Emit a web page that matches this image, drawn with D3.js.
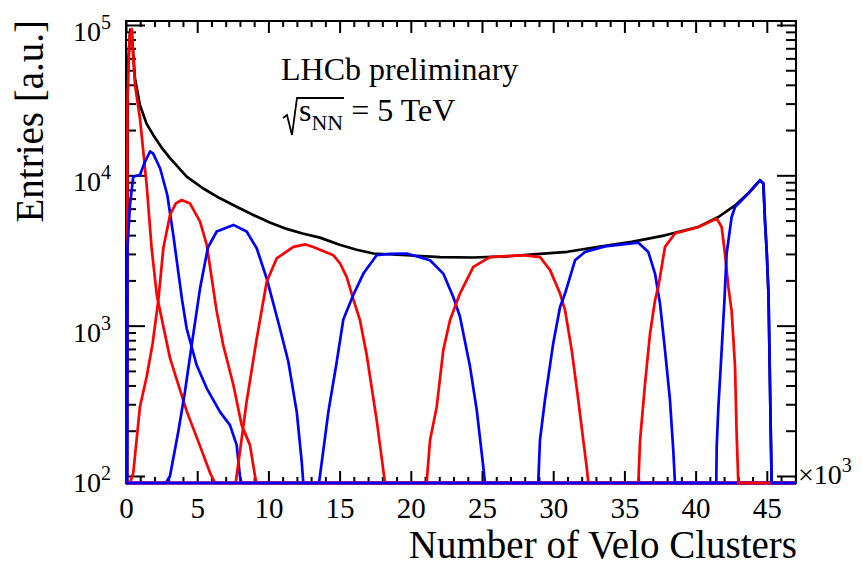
<!DOCTYPE html>
<html>
<head>
<meta charset="utf-8">
<script src="https://d3js.org/d3.v7.min.js"></script>
<style>
    body { margin: 0; background: #fff; }
    svg { display: block; }
    text { font-family: "Liberation Serif", "Times New Roman", serif; fill: #000; }
    .curve { fill: none; stroke-width: 2.7; stroke-linejoin: round; }
    .tick line { stroke: #000; stroke-width: 2; }
</style>
</head>
<body>
<svg width="863" height="566"></svg>
<script>
    // x in units of 10^3 Velo clusters, y = entries (0 = empty bin)
    const total = [[0.08, 0], [0.12, 50000], [0.3, 93000], [0.4, 90000], [0.63, 44000], [0.98, 29300],
        [1.45, 22000], [1.92, 18500], [2.5, 15300], [3.09, 13000], [4.26, 9800], [5.4, 8200], [6.6, 7030],
        [7.8, 6150], [8.94, 5450], [10.1, 4850], [11.28, 4400], [12.4, 4100], [13.62, 3850], [15.0, 3450],
        [16.2, 3200], [17.37, 3020], [19.7, 2940], [22.05, 2860], [24.39, 2840], [26.7, 2890], [29.07, 3000],
        [31.0, 3100], [33.17, 3340], [35.51, 3610], [37.85, 3990], [40.19, 4530], [41.6, 5280], [42.77, 6310],
        [43.7, 7600], [44.52, 9270], [44.76, 8810], [44.87, 5020], [45.0, 3020], [45.12, 1600], [45.2, 550],
        [45.28, 190], [45.34, 0]];

    const class1 = [[0.06, 0], [0.1, 30000], [0.25, 85000], [0.4, 94000], [0.63, 40000], [0.98, 23900],
        [1.45, 8630], [1.8, 3270], [2.16, 1600], [3.09, 608], [4.26, 270], [5.2, 158], [5.9, 105], [6.25, 0]];
    const class2 = [[0.08, 0], [0.1, 3300], [0.28, 6350], [0.51, 9800], [0.98, 10050], [1.33, 12300],
        [1.69, 14400], [1.9, 14000], [2.4, 11100], [2.9, 7400], [3.32, 4010], [3.93, 1500], [4.26, 957],
        [4.96, 547], [5.67, 383], [6.6, 267], [7.3, 218], [7.77, 161], [8.0, 100], [8.1, 0]];
    const class3 = [[0.28, 0], [0.51, 105], [0.98, 289], [1.45, 457], [1.87, 762], [2.27, 1475], [2.62, 3270],
        [3.09, 5450], [3.5, 6500], [3.91, 6850], [4.49, 6500], [5.2, 4920], [5.67, 3440], [6.37, 1240],
        [6.83, 741], [7.54, 403], [8.12, 218], [8.7, 161], [9.06, 100], [9.15, 0]];
    const class4 = [[2.8, 0], [3.09, 100], [3.67, 197], [4.14, 363], [4.61, 741], [5.2, 1770], [5.75, 3300],
        [6.37, 4230], [7.54, 4680], [8.47, 4230], [9.18, 3270], [9.88, 2060], [10.81, 957], [11.4, 575],
        [11.99, 267], [12.34, 124], [12.45, 0]];
    const class5 = [[7.7, 0], [7.77, 100], [8.47, 312], [9.18, 822], [9.88, 1960], [10.58, 2800], [11.75, 3340],
        [12.6, 3470], [13.15, 3340], [14.56, 2940], [15.03, 2600], [15.5, 2100], [15.96, 1500], [16.43, 1087],
        [16.9, 640], [17.6, 236], [18.07, 109], [18.19, 0]];
    const class6 = [[13.55, 0], [13.62, 100], [14.21, 267], [14.8, 575], [15.26, 1100], [15.96, 1600],
        [16.67, 2220], [17.6, 2940], [18.5, 3000], [19.71, 3020], [21.35, 2720], [22.28, 2220], [22.98, 1550],
        [23.45, 1150], [24.16, 532], [24.63, 275], [25.09, 115], [25.21, 0]];
    const class7 = [[21.05, 0], [21.11, 90], [21.35, 173], [21.82, 289], [22.28, 687], [22.75, 1087],
        [23.45, 1635], [24.39, 2460], [25.56, 2860], [27.9, 2940], [29.07, 2860], [29.78, 2340], [30.48, 1635],
        [30.83, 1268], [31.3, 687], [31.76, 320], [32.11, 173], [32.35, 115], [32.47, 0]];
    const class8 = [[28.9, 0], [28.95, 90], [29.07, 173], [29.42, 320], [30.0, 762], [30.48, 1330],
        [30.83, 1635], [31.53, 2720], [32.23, 3090], [33.64, 3370], [35.51, 3520], [35.98, 3560], [36.68, 3090],
        [37.15, 2220], [37.5, 1400], [37.85, 687], [38.2, 320], [38.43, 149], [38.55, 0]];
    const class9 = [[35.9, 0], [35.98, 90], [36.1, 173], [36.45, 413], [36.8, 887], [37.15, 1475],
        [37.38, 1810], [37.85, 3340], [38.55, 4100], [40.19, 4530], [41.48, 5150], [41.83, 4530], [42.06, 3020],
        [42.3, 1810], [42.53, 1250], [42.77, 532], [42.88, 192], [43.0, 0]];
    const class10 = [[41.45, 0], [41.48, 156], [41.6, 289], [41.83, 687], [42.02, 1450], [42.18, 3020],
        [42.53, 5280], [42.77, 6150], [43.7, 7550], [44.52, 9270], [44.76, 8810], [44.87, 5020], [45.0, 3020],
        [45.12, 1600], [45.2, 550], [45.28, 190], [45.34, 0]];

    const classes = [class1, class2, class3, class4, class5, class6, class7, class8, class9, class10];
    const classColors = ["#ff0000", "#0000ff"];
    const xTickValues = [0, 5, 10, 15, 20, 25, 30, 35, 40, 45];
    const yDecades = [100, 1000, 10000, 100000];
    const yExponents = ["2", "3", "4", "5"];

    const svg = d3.select("svg");
    const margin = { top: 21, right: 67, bottom: 83, left: 126 };
    const width = +svg.attr("width") - margin.left - margin.right;
    const height = +svg.attr("height") - margin.top - margin.bottom;
    const g = svg.append("g").attr("transform", `translate(${margin.left},${margin.top})`);

    const yMin = 89.8;
    const x = d3.scaleLinear().domain([0, 47.05]).range([0, width]);
    const y = d3.scaleLog().domain([yMin, 106300]).range([height, 0]);
    const xEnd = x.domain()[1];

    // empty bins sit on the bottom edge, as ROOT draws them on a log axis
    const line = d3.line()
        .x(d => x(d[0]))
        .y(d => y(Math.max(d[1], yMin)));
    const withEmpty = s => [[0, 0]].concat(s, [[xEnd, 0]]);

    g.append("rect")
        .attr("width", width).attr("height", height)
        .attr("fill", "none").attr("stroke", "#000").attr("stroke-width", 2);

    // ticks on all four sides, pointing inwards
    const xMinor = d3.range(0, 48).filter(v => v % 5 !== 0);
    const yMinor = [];
    yDecades.forEach(d => { for (let k = 2; k <= 9; k++) if (d * k < 106300) yMinor.push(d * k); });
    const noDomain = sel => sel.select(".domain").remove();

    g.append("g").attr("transform", `translate(0,${height})`)
        .call(d3.axisBottom(x).tickValues(xTickValues).tickSize(-12).tickPadding(14).tickFormat(d3.format("d")))
        .call(noDomain)
        .call(a => a.selectAll("text").style("font-size", "29px"));
    g.append("g").attr("transform", `translate(0,${height})`)
        .call(d3.axisBottom(x).tickValues(xMinor).tickSize(-6).tickFormat("")).call(noDomain);
    g.append("g")
        .call(d3.axisTop(x).tickValues(xTickValues).tickSize(-12).tickFormat("")).call(noDomain);
    g.append("g")
        .call(d3.axisTop(x).tickValues(xMinor).tickSize(-6).tickFormat("")).call(noDomain);

    g.append("g")
        .call(d3.axisLeft(y).tickValues(yDecades).tickSize(-19).tickFormat("")).call(noDomain);
    g.append("g")
        .call(d3.axisLeft(y).tickValues(yMinor).tickSize(-10).tickFormat("")).call(noDomain);
    g.append("g").attr("transform", `translate(${width},0)`)
        .call(d3.axisRight(y).tickValues(yDecades).tickSize(-19).tickFormat("")).call(noDomain);
    g.append("g").attr("transform", `translate(${width},0)`)
        .call(d3.axisRight(y).tickValues(yMinor).tickSize(-10).tickFormat("")).call(noDomain);

    // 10^n labels
    yDecades.forEach((d, i) => {
        const t = g.append("text")
            .attr("x", -15).attr("y", y(d) + 16)
            .attr("text-anchor", "end").attr("font-size", 28);
        t.append("tspan").text("10");
        t.append("tspan").attr("font-size", 20).attr("dy", -12).text(yExponents[i]);
    });

    const exp = g.append("text")
        .attr("x", width + 2).attr("y", height + 1).attr("font-size", 28);
    exp.append("tspan").text("\u00d710");
    exp.append("tspan").attr("font-size", 20).attr("dy", -12).text("3");

    // histograms
    g.append("path").datum(withEmpty(total))
        .attr("class", "curve").attr("stroke", "#000").attr("d", line);
    classes.forEach((s, i) => {
        g.append("path").datum(withEmpty(s))
            .attr("class", "curve").attr("stroke", classColors[i % 2]).attr("d", line);
    });

    // axis titles
    svg.append("text")
        .attr("x", margin.left + width + 1).attr("y", 558)
        .attr("text-anchor", "end").attr("font-size", 39)
        .text("Number of Velo Clusters");
    svg.append("text")
        .attr("transform", "translate(43,20) rotate(-90)")
        .attr("text-anchor", "end").attr("font-size", 39)
        .text("Entries [a.u.]");

    // label
    svg.append("text").attr("x", 281).attr("y", 80).attr("font-size", 32).text("LHCb preliminary");
    svg.append("path")
        .attr("d", "M283,118 L287,115 L292,135 L297,98 L344,98")
        .attr("fill", "none").attr("stroke", "#000").attr("stroke-width", 1.8);
    const energy = svg.append("text").attr("x", 299).attr("y", 121).attr("font-size", 32);
    energy.append("tspan").text("s");
    energy.append("tspan").attr("font-size", 22).attr("dy", 9).text("NN");
    energy.append("tspan").attr("dy", -9).text(" = 5 TeV");
</script>
</body>
</html>
